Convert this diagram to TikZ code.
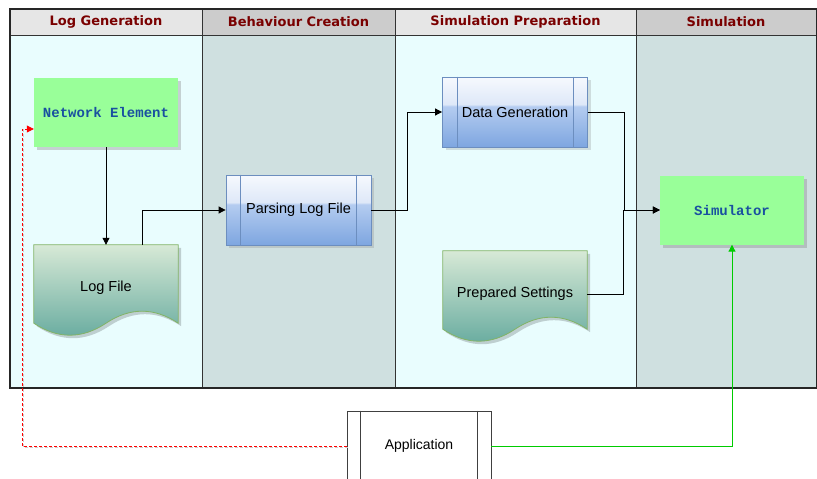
\documentclass[tikz,border=0pt]{standalone}
\usepackage{fontspec}
\setmainfont{Liberation Sans}
\newfontfamily\hdrfont{DejaVu Sans}
\newfontfamily\codefont{Liberation Mono}
\usetikzlibrary{arrows.meta,shadows,calc}
\pgfdeclarelayer{lanes}
\pgfdeclarelayer{shapes}
\pgfsetlayers{lanes,shapes,main}
\definecolor{lanelight}{RGB}{233,253,254}
\definecolor{lanedark}{RGB}{207,224,224}
\definecolor{hdrlight}{RGB}{230,230,230}
\definecolor{hdrdark}{RGB}{204,204,204}
\definecolor{hdrtext}{RGB}{122,0,0}
\definecolor{boxgreen}{RGB}{153,255,153}
\definecolor{codeblue}{RGB}{25,80,160}
\definecolor{doctop}{RGB}{215,233,214}
\definecolor{docbot}{RGB}{103,171,159}
\definecolor{docstroke}{RGB}{130,179,102}
\definecolor{procstroke}{RGB}{108,142,191}
\definecolor{glasstop}{RGB}{246,249,254}
\definecolor{glasslow}{RGB}{222,232,248}
\definecolor{procmid}{RGB}{180,204,240}
\definecolor{procbot}{RGB}{126,166,224}
\definecolor{redline}{RGB}{255,0,0}
\definecolor{greenline}{RGB}{0,204,0}
\pgfdeclareverticalshading{glassproc}{100bp}{color(0bp)=(procbot); color(25bp)=(procbot); color(54bp)=(procmid); color(55.5bp)=(glasslow); color(75bp)=(glasstop); color(100bp)=(glasstop)}

\newcommand\docshape[1]{%
  \begin{pgfonlayer}{shapes}
  \fill[black,opacity=0.18] ([xshift=3pt,yshift=-3pt]#1.north west) -- ([xshift=3pt,yshift=-3pt]#1.north east)
     -- ([xshift=3pt,yshift=5pt]#1.south east) .. controls +(-24,-16) and +(24,-16) .. ([xshift=3pt,yshift=5pt]#1.south)
     .. controls +(-24,16) and +(24,16) .. ([xshift=3pt,yshift=5pt]#1.south west) -- cycle;
  \shadedraw[top color=doctop,bottom color=docbot,draw=docstroke,line width=0.8pt]
     (#1.north west) -- (#1.north east)
     -- ([yshift=8pt]#1.south east) .. controls +(-24,-16) and +(24,-16) .. ([yshift=8pt]#1.south)
     .. controls +(-24,16) and +(24,16) .. ([yshift=8pt]#1.south west) -- cycle;
  \end{pgfonlayer}}
\newcommand\proclines[3]{\draw[#2,line width=0.7pt] ([xshift=#3]#1.north west) -- ([xshift=#3]#1.south west)
   ([xshift=-#3]#1.north east) -- ([xshift=-#3]#1.south east);}

\begin{document}
\begin{tikzpicture}[x=1pt,y=-1pt,
  hdr/.style={font=\hdrfont\bfseries\fontsize{13}{15}\selectfont, text=hdrtext, inner sep=0pt},
  greenbox/.style={rectangle, fill=boxgreen, minimum width=144pt, minimum height=69pt, inner sep=0pt,
     font=\codefont\bfseries\fontsize{14}{16}\selectfont, text=codeblue,
     drop shadow={shadow xshift=3pt, shadow yshift=-3pt, opacity=0.35}},
  procbox/.style={rectangle, shading=glassproc, draw=procstroke, line width=0.8pt,
     minimum width=145pt, minimum height=70pt, inner sep=0pt, font=\fontsize{14.5}{16}\selectfont,
     drop shadow={shadow xshift=3pt, shadow yshift=-3pt, opacity=0.25}},
  docbox/.style={rectangle, minimum width=144pt, minimum height=86pt, inner sep=0pt, font=\fontsize{14.5}{16}\selectfont},
  appbox/.style={rectangle, draw=black!75, fill=white, line width=0.8pt, minimum width=144pt, minimum height=70pt,
     inner sep=0pt, font=\fontsize{14}{16}\selectfont},
  conn/.style={draw=black, line width=0.8pt, -{Triangle[length=7pt,width=7pt]}},
  lanediv/.style={draw=black!80, line width=0.8pt}
]
\useasboundingbox (0,0) rectangle (817,479);

% lanes
\begin{pgfonlayer}{lanes}
\fill[lanelight] (10,35) rectangle (202,388);
\fill[lanedark] (202,35) rectangle (395,388);
\fill[lanelight] (395,35) rectangle (636,388);
\fill[lanedark] (636,35) rectangle (817,388);
\fill[hdrlight] (10,9) rectangle (202,35);
\fill[hdrdark] (202,9) rectangle (395,35);
\fill[hdrlight] (395,9) rectangle (636,35);
\fill[hdrdark] (636,9) rectangle (817,35);
\draw[lanediv] (202,9) -- (202,388) (395,9) -- (395,388) (636,9) -- (636,388) (10,35) -- (817,35);
\draw[draw=black!85, line width=1.2pt] (10,9) rectangle (816.5,388);
\end{pgfonlayer}

\node[hdr] (h1) at (106,22) {Log Generation};
\node[hdr] (h2) at (298.5,22) {Behaviour Creation};
\node[hdr] (h3) at (515.5,22) {Simulation Preparation};
\node[hdr] (h4) at (726,22) {Simulation};

% nodes
\node[greenbox] (ne) at (106,112.5) {Network Element};
\node[docbox] (log) at (106,288) {Log File};
\docshape{log}
\node[procbox] (parse) at (298.5,210) {Parsing Log File};
\proclines{parse}{procstroke}{15pt}
\node[procbox] (datagen) at (515,112) {Data Generation};
\proclines{datagen}{procstroke}{15pt}
\node[docbox] (prep) at (515,294) {Prepared Settings};
\docshape{prep}
\node[greenbox] (sim) at (732,210) {Simulator};
\node[appbox] (app) at (419,446) {Application};
\proclines{app}{black!75}{14pt}

% connectors
\draw[conn] (ne.south) -- (log.north);
\draw[conn] ([xshift=36pt]log.north) |- (parse.west);
\draw[conn] (parse.east) -- ++(36,0) |- (datagen.west);
\draw[conn] (datagen.east) -- ++(36,0) |- (sim.west);
\draw[conn] (prep.east) -- ++(36,0) |- (sim.west);
\coordinate (rc) at (22,129);
\draw[black!20, line width=0.8pt, dash pattern=on 3pt off 2pt] ([xshift=1.5pt,yshift=-1.5pt]app.west) -| ([xshift=1.5pt]rc);
\draw[redline, line width=0.8pt, dash pattern=on 3pt off 2pt, -{Triangle[length=7pt,width=7pt]}] (app.west) -| (rc) -- (rc -| ne.west);
\draw[greenline, line width=1pt, -{Triangle[length=7pt,width=7pt]}] (app.east) -| (sim.south);
\end{tikzpicture}
\end{document}
